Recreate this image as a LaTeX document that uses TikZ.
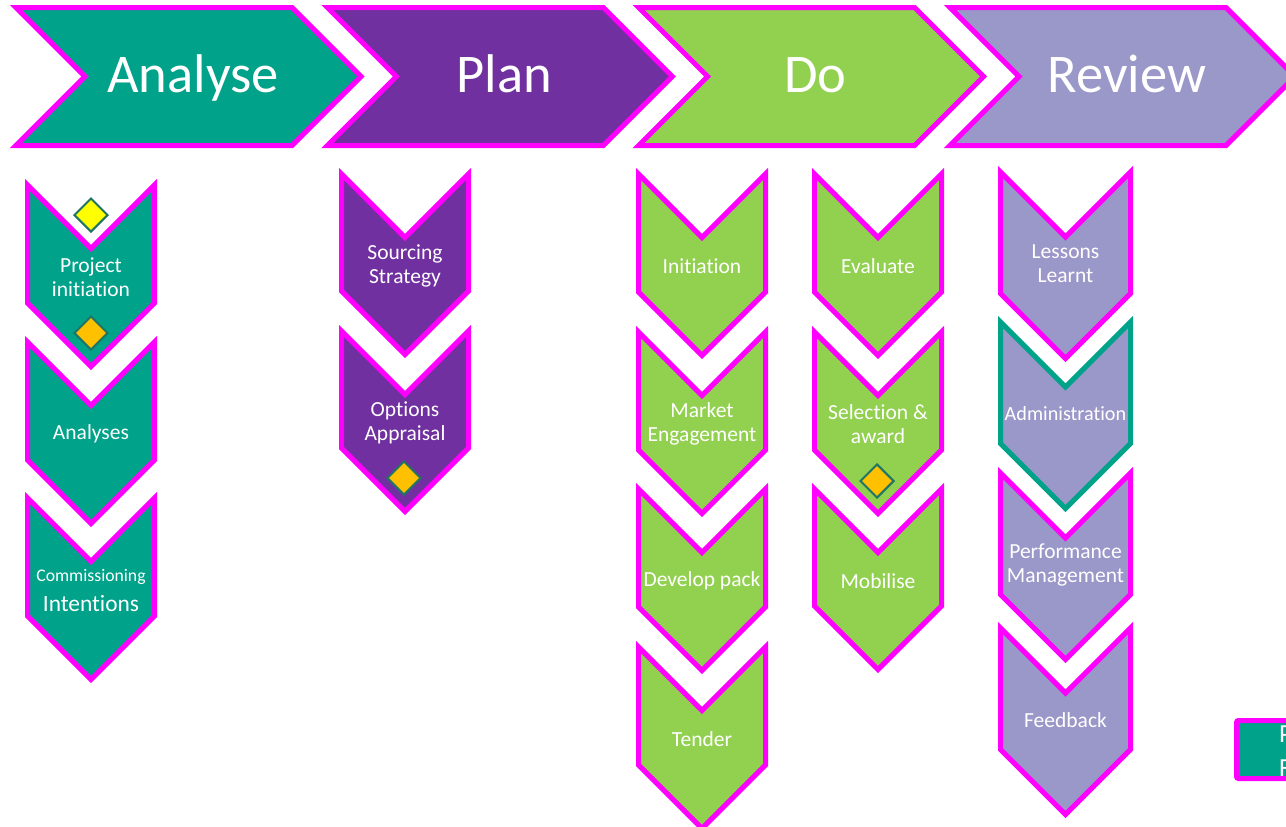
\documentclass[tikz,border=0pt]{standalone}
\usepackage{fontspec}
\setmainfont{Carlito}[Ligatures=NoCommon]
\usetikzlibrary{shapes.geometric}

\definecolor{tealfill}{HTML}{00A28A}
\definecolor{purplefill}{HTML}{7030A0}
\definecolor{greenfill}{HTML}{92D050}
\definecolor{lavfill}{HTML}{9A97C9}
\definecolor{edgemag}{HTML}{FF00FF}
\definecolor{gateedge}{HTML}{1F7563}
\definecolor{gateyellow}{HTML}{FFFF00}
\definecolor{gateorange}{HTML}{FFC000}

\tikzset{
  band/.style={line width=5pt, draw=edgemag, line join=miter, miter limit=10},
  headlbl/.style={text=white, inner sep=0pt, anchor=base, font=\fontsize{54.5}{60}\selectfont},
  steplbl/.style={text=white, align=center, inner sep=0pt, font=\fontsize{21.5}{24}\selectfont},
  gate/.style={diamond, draw=gateedge, line width=2pt, minimum width=34pt, minimum height=34pt, inner sep=0pt},
}

% phase banner: name, outer left x, fill, label
\newcommand\headchev[4]{%
  \pgfmathsetmacro\lx{#2+6}
  \draw[band, fill=#3] (\lx,7.5) -- ({\lx+276},7.5) -- ({\lx+345},76.5)
    -- ({\lx+276},145.5) -- (\lx,145.5) -- ({\lx+69},76.5) -- cycle;
  \node[headlbl] (#1) at ({\lx+177},92) {#4};
}

% step chevron: name, centre x, outer top, outer half width, outer height, fill, edge, label
\newcommand\vstep[8]{%
  \pgfmathsetmacro\hw{#4-2.5}
  \pgfmathsetmacro\yt{#3+5}
  \pgfmathsetmacro\yb{#3+#5-3.5-\hw}
  \draw[band, draw=#7, fill=#6] ({#2-\hw},\yt) -- (#2,{\yt+\hw}) -- ({#2+\hw},\yt)
    -- ({#2+\hw},\yb) -- (#2,{\yb+\hw}) -- ({#2-\hw},\yb) -- cycle;
  \node[steplbl] (#1) at (#2,{#3+97}) {#8};
}

\begin{document}
\begin{tikzpicture}[x=1pt,y=-1pt]
\useasboundingbox (0,0) rectangle (1286,827);
\clip (0,0) rectangle (1286,827);

% phase banners
\headchev{analyse}{10}{tealfill}{Analyse}
\headchev{plan}{321.3}{purplefill}{Plan}
\headchev{do}{632.6}{greenfill}{Do}
\headchev{review}{944}{lavfill}{Review}

% Analyse steps
\vstep{projinit}{91}{180}{66}{190}{tealfill}{edgemag}{Project\\initiation}
\vstep{analyses}{91}{337}{66}{190}{tealfill}{edgemag}{Analyses}
\vstep{commint}{91}{493}{66}{190}{tealfill}{edgemag}{{\fontsize{17.7}{20}\selectfont Commissioning}\\[6pt]{\fontsize{23.4}{26}\selectfont Intentions}}

% Plan steps
\vstep{sourcing}{405}{169}{66}{189}{purplefill}{edgemag}{Sourcing\\Strategy}
\vstep{options}{405}{326}{66}{189}{purplefill}{edgemag}{Options\\Appraisal}

% Do steps, left column
\vstep{initiation}{702}{169}{66}{190}{greenfill}{edgemag}{Initiation}
\vstep{market}{702}{327}{66}{190}{greenfill}{edgemag}{Market\\Engagement}
\vstep{develop}{702}{484}{66}{190}{greenfill}{edgemag}{Develop pack}
\vstep{tender}{702}{642}{66}{190}{greenfill}{edgemag}{Tender}

% Do steps, right column
\vstep{evaluate}{878}{169}{66}{190}{greenfill}{edgemag}{Evaluate}
\vstep{selection}{878}{327}{66}{190}{greenfill}{edgemag}{Selection \&\\award}
\vstep{mobilise}{878}{484}{66}{189}{greenfill}{edgemag}{Mobilise}

% Review steps
\vstep{lessons}{1065.5}{167}{67.5}{195}{lavfill}{edgemag}{Lessons\\Learnt}
\vstep{admin}{1065.5}{317}{67.5}{195}{lavfill}{tealfill}{{\fontsize{20.2}{22}\selectfont Administration}}
\vstep{perf}{1065.5}{468}{67.5}{195}{lavfill}{edgemag}{Performance\\Management}
\vstep{feedback}{1065.5}{623}{67.5}{195}{lavfill}{edgemag}{Feedback}

% gateway markers
\node[gate, fill=gateyellow] (gate1) at (91,215) {};
\node[gate, fill=gateorange] (gate2) at (91,333) {};
\node[gate, fill=gateorange] (gate3) at (404,478) {};
\node[gate, fill=gateorange] (gate4) at (877,481) {};

% key box at the lower right
\draw[line width=5pt, draw=edgemag, fill=tealfill, rounded corners=2pt] (1236.5,720.5) rectangle (1330,778.5);
\node[text=white, inner sep=0pt, anchor=base west, font=\fontsize{26}{28}\selectfont] (keyp) at (1279,742) {P};
\node[text=white, inner sep=0pt, anchor=base west, font=\fontsize{26}{28}\selectfont] (keyf) at (1279,776) {F};
\end{tikzpicture}
\end{document}
